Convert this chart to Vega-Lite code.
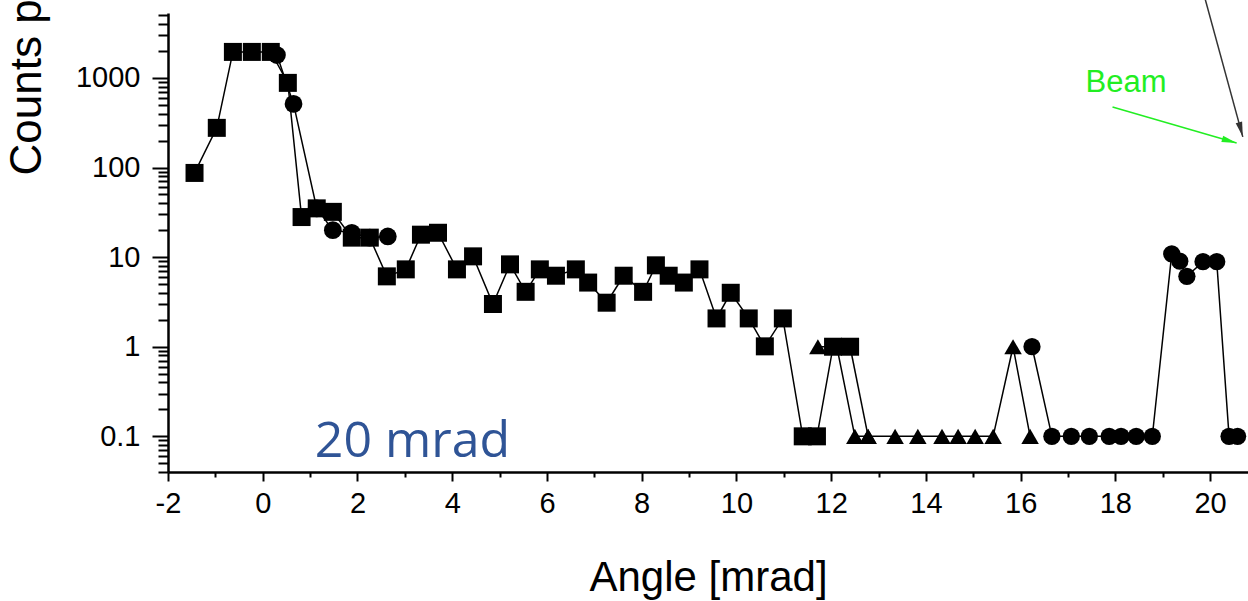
{
  "$schema": "https://vega.github.io/schema/vega-lite/v6.json",
  "width": 1080,
  "height": 459,
  "autosize": {"type": "none"},
  "padding": {"left": 168, "top": 13, "right": 0, "bottom": 129},
  "background": "white",
  "config": {"view": {"stroke": null}},
  "datasets": {
    "counts": [
      {"series": "E", "angle": 12.4, "counts": 1.0},
      {"series": "E", "angle": 12.78, "counts": 0.1},
      {"series": "A", "angle": -1.44, "counts": 87},
      {"series": "A", "angle": -0.97, "counts": 277},
      {"series": "A", "angle": -0.63, "counts": 1950},
      {"series": "A", "angle": -0.23, "counts": 1950},
      {"series": "A", "angle": 0.17, "counts": 1950},
      {"series": "A", "angle": 0.53, "counts": 880},
      {"series": "A", "angle": 0.82, "counts": 28},
      {"series": "A", "angle": 1.14, "counts": 35},
      {"series": "A", "angle": 1.48, "counts": 32},
      {"series": "A", "angle": 1.88, "counts": 16.5},
      {"series": "A", "angle": 2.26, "counts": 16.5},
      {"series": "A", "angle": 2.62, "counts": 6.1},
      {"series": "A", "angle": 3.02, "counts": 7.3},
      {"series": "A", "angle": 3.34, "counts": 17.8},
      {"series": "A", "angle": 3.7, "counts": 18.7},
      {"series": "A", "angle": 4.1, "counts": 7.3},
      {"series": "A", "angle": 4.44, "counts": 10.2},
      {"series": "A", "angle": 4.86, "counts": 3.0},
      {"series": "A", "angle": 5.22, "counts": 8.3},
      {"series": "A", "angle": 5.55, "counts": 4.1},
      {"series": "A", "angle": 5.85, "counts": 7.3},
      {"series": "A", "angle": 6.19, "counts": 6.2},
      {"series": "A", "angle": 6.61, "counts": 7.3},
      {"series": "A", "angle": 6.87, "counts": 5.2},
      {"series": "A", "angle": 7.26, "counts": 3.1},
      {"series": "A", "angle": 7.62, "counts": 6.2},
      {"series": "A", "angle": 8.03, "counts": 4.1},
      {"series": "A", "angle": 8.3, "counts": 8.1},
      {"series": "A", "angle": 8.57, "counts": 6.2},
      {"series": "A", "angle": 8.89, "counts": 5.2},
      {"series": "A", "angle": 9.22, "counts": 7.3},
      {"series": "A", "angle": 9.58, "counts": 2.07},
      {"series": "A", "angle": 9.88, "counts": 4.0},
      {"series": "A", "angle": 10.26, "counts": 2.07},
      {"series": "A", "angle": 10.6, "counts": 1.01},
      {"series": "A", "angle": 10.98, "counts": 2.07},
      {"series": "A", "angle": 11.4, "counts": 0.1},
      {"series": "A", "angle": 11.7, "counts": 0.1},
      {"series": "A", "angle": 12.04, "counts": 1.0},
      {"series": "A", "angle": 12.4, "counts": 1.0},
      {"series": "B", "angle": 0.3, "counts": 1800},
      {"series": "B", "angle": 0.65, "counts": 513},
      {"series": "B", "angle": 1.14, "counts": 35},
      {"series": "B", "angle": 1.48, "counts": 20},
      {"series": "B", "angle": 1.88, "counts": 18.7},
      {"series": "B", "angle": 2.26, "counts": 16.5},
      {"series": "B", "angle": 2.64, "counts": 17},
      {"series": "C", "angle": 11.72, "counts": 1.0},
      {"series": "C", "angle": 12.12, "counts": 1.0},
      {"series": "C", "angle": 12.5, "counts": 0.1},
      {"series": "C", "angle": 12.78, "counts": 0.1},
      {"series": "C", "angle": 13.35, "counts": 0.1},
      {"series": "C", "angle": 13.83, "counts": 0.1},
      {"series": "C", "angle": 14.34, "counts": 0.1},
      {"series": "C", "angle": 14.68, "counts": 0.1},
      {"series": "C", "angle": 15.04, "counts": 0.1},
      {"series": "C", "angle": 15.42, "counts": 0.1},
      {"series": "C", "angle": 15.84, "counts": 1.0},
      {"series": "C", "angle": 16.2, "counts": 0.1},
      {"series": "D", "angle": 16.24, "counts": 1.0},
      {"series": "D", "angle": 16.66, "counts": 0.1},
      {"series": "D", "angle": 17.07, "counts": 0.1},
      {"series": "D", "angle": 17.45, "counts": 0.1},
      {"series": "D", "angle": 17.87, "counts": 0.1},
      {"series": "D", "angle": 18.12, "counts": 0.1},
      {"series": "D", "angle": 18.44, "counts": 0.1},
      {"series": "D", "angle": 18.78, "counts": 0.1},
      {"series": "D", "angle": 19.19, "counts": 10.9},
      {"series": "D", "angle": 19.36, "counts": 9.0},
      {"series": "D", "angle": 19.51, "counts": 6.1},
      {"series": "D", "angle": 19.85, "counts": 8.9},
      {"series": "D", "angle": 20.14, "counts": 8.9},
      {"series": "D", "angle": 20.4, "counts": 0.1},
      {"series": "D", "angle": 20.58, "counts": 0.1}
    ],
    "arrows": [
      {"arrow": "Beam", "angle": 17.94, "counts": 474, "angle2": 20.56, "counts2": 188, "heading": 106},
      {"arrow": "Other", "angle": 19.87, "counts": 8500, "angle2": 20.69, "counts2": 220, "heading": 165}
    ]
  },
  "layer": [
    {
      "data": {"name": "counts"},
      "mark": {"type": "line", "color": "black", "strokeWidth": 1.5},
      "encoding": {
        "x": {
          "field": "angle", "type": "quantitative",
          "scale": {"domain": [-2, 20.8], "nice": false, "zero": false},
          "axis": {
            "values": [-2,-1,0,1,2,3,4,5,6,7,8,9,10,11,12,13,14,15,16,17,18,19,20],
            "labelExpr": "datum.value % 2 === 0 ? '' + datum.value : ''",
            "tickSize": {"condition": {"test": "datum.value % 2 === 0", "value": 9}, "value": 5},
            "tickColor": "black", "tickWidth": 2,
            "domainColor": "black", "domainWidth": 2.5,
            "labelFont": "Liberation Sans", "labelFontSize": 29, "labelColor": "black",
            "labelPadding": 8, "labelFlush": false, "labelOverlap": false, "labelBound": false,
            "grid": false,
            "title": "Angle [mrad]",
            "titleFont": "Liberation Sans", "titleFontSize": 42, "titleFontWeight": "normal",
            "titleColor": "black", "titleBaseline": "alphabetic", "titleY": 118
          }
        },
        "y": {
          "field": "counts", "type": "quantitative",
          "scale": {"type": "log", "domain": [0.04, 5300], "nice": false},
          "axis": {
            "values": [0.04,0.05,0.06,0.07,0.08,0.09,0.1,0.2,0.3,0.4,0.5,0.6,0.7,0.8,0.9,1,2,3,4,5,6,7,8,9,10,20,30,40,50,60,70,80,90,100,200,300,400,500,600,700,800,900,1000,2000,3000,4000,5000],
            "labelExpr": "indexof([0.1,1,10,100,1000], datum.value) >= 0 ? '' + datum.value : ''",
            "tickSize": {"condition": {"test": "indexof([0.1,1,10,100,1000], datum.value) >= 0", "value": 16}, "value": 10},
            "tickColor": "black", "tickWidth": 2,
            "domainColor": "black", "domainWidth": 2.5,
            "labelFont": "Liberation Sans", "labelFontSize": 29, "labelColor": "black",
            "labelPadding": 12, "labelFlush": false, "labelOverlap": false, "labelBound": false,
            "grid": false,
            "title": "Counts per second",
            "titleFont": "Liberation Sans", "titleFontSize": 44, "titleFontWeight": "normal",
            "titleColor": "black", "titleAngle": -90, "titleAlign": "left", "titleBaseline": "alphabetic",
            "titleX": -128, "titleY": 162
          }
        },
        "detail": {"field": "series", "type": "nominal"}
      }
    },
    {
      "data": {"name": "counts"},
      "mark": {"type": "point", "filled": true, "color": "black", "opacity": 1},
      "encoding": {
        "x": {"field": "angle", "type": "quantitative"},
        "y": {"field": "counts", "type": "quantitative"},
        "shape": {
          "field": "series", "type": "nominal",
          "scale": {"domain": ["A", "B", "C", "D", "E"], "range": ["square", "circle", "triangle-up", "circle", "triangle-up"]},
          "legend": null
        },
        "size": {
          "field": "series", "type": "nominal",
          "scale": {"domain": ["A", "B", "C", "D", "E"], "range": [324, 290, 650, 290, 650]},
          "legend": null
        }
      }
    },
    {
      "data": {"values": [{"label": "20 mrad", "angle": 1.1, "counts": 0.0584}]},
      "mark": {"type": "text", "align": "left", "baseline": "alphabetic", "font": "Open Sans", "fontSize": 50, "color": "#2f5496"},
      "encoding": {
        "x": {"field": "angle", "type": "quantitative"},
        "y": {"field": "counts", "type": "quantitative"},
        "text": {"field": "label"}
      }
    },
    {
      "data": {"values": [{"label": "Beam", "angle": 17.37, "counts": 698}]},
      "mark": {"type": "text", "align": "left", "baseline": "alphabetic", "font": "Liberation Sans", "fontSize": 31, "color": "#22ee22"},
      "encoding": {
        "x": {"field": "angle", "type": "quantitative"},
        "y": {"field": "counts", "type": "quantitative"},
        "text": {"field": "label"}
      }
    },
    {
      "data": {"name": "arrows"},
      "mark": {"type": "rule", "strokeWidth": 1.5, "clip": false},
      "encoding": {
        "x": {"field": "angle", "type": "quantitative"},
        "y": {"field": "counts", "type": "quantitative"},
        "x2": {"field": "angle2"},
        "y2": {"field": "counts2"},
        "color": {"field": "arrow", "type": "nominal", "scale": {"domain": ["Beam", "Other"], "range": ["#22ee22", "#333333"]}, "legend": null}
      }
    },
    {
      "data": {"name": "arrows"},
      "mark": {"type": "point", "filled": true, "opacity": 1, "shape": "M0,0 L0.4,1.8 L-0.4,1.8 Z", "size": 276},
      "encoding": {
        "x": {"field": "angle2", "type": "quantitative"},
        "y": {"field": "counts2", "type": "quantitative"},
        "angle": {"field": "heading", "type": "quantitative", "scale": null},
        "color": {"field": "arrow", "type": "nominal", "legend": null}
      }
    }
  ]
}
